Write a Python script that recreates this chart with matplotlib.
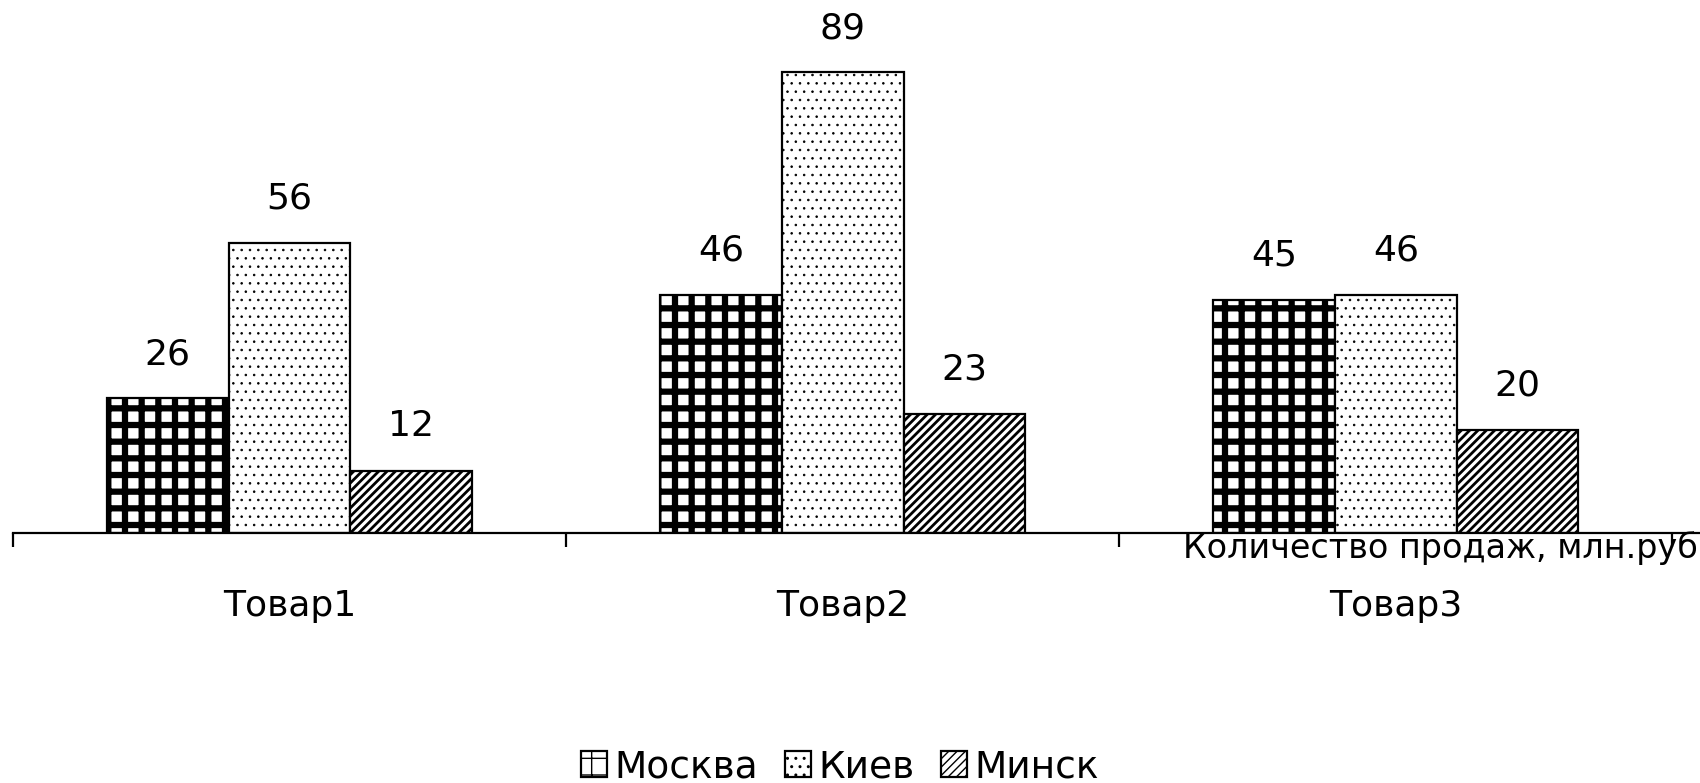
import matplotlib
matplotlib.use("Agg")
import matplotlib.pyplot as plt
import numpy as np

categories = ["Товар1", "Товар2", "Товар3"]
series_names = ["Москва", "Киев", "Минск"]
moscow = [26, 46, 45]
kiev = [56, 89, 46]
minsk = [12, 23, 20]
axis_title = "Количество продаж, млн.руб"

plt.rcParams['font.family'] = ['DejaVu Sans']

fig = plt.figure(figsize=(17, 7.83), dpi=100)
ax = fig.add_axes([13/1700, (783-533)/783, 1 - 13/1700, 533/783])

x = np.arange(len(categories)) + 0.5
w = 0.22
styles = [("+", 4.5), ("..", 0.6), ("////", 2.0)]
data = [moscow, kiev, minsk]
handles = []
for i, (vals, name, (hatch, hlw)) in enumerate(zip(data, series_names, styles)):
    with plt.rc_context({'hatch.linewidth': hlw, 'hatch.color': 'black'}):
        bars = ax.bar(x + (i - 1) * w, vals, width=w, facecolor='white',
                      edgecolor='black', linewidth=1.6, hatch=hatch, label=name)
    for b in bars:
        try:
            b.set_hatch_linewidth(hlw)
        except Exception:
            pass
    handles.append(bars)
    for xi, v in zip(x + (i - 1) * w, vals):
        ax.annotate(str(v), (xi, v), xytext=(0, 32), textcoords='offset points',
                    ha='center', va='center', fontsize=26)

ax.set_xlim(0, 3.05)
ax.set_ylim(0, 103)
for s in ['top', 'right', 'left']:
    ax.spines[s].set_visible(False)
ax.spines['bottom'].set_linewidth(1.6)
ax.set_yticks([])
ax.set_xticks([0, 1, 2, 3])
ax.set_xticklabels([])
ax.tick_params(axis='x', which='major', length=10, width=1.6, direction='out')
ax.set_xticks(x, minor=True)
ax.set_xticklabels(categories, minor=True, fontsize=26)
ax.tick_params(axis='x', which='minor', length=0, pad=40)

fig.text(1 - 2/1700, (783-548)/783, axis_title, ha='right', va='center', fontsize=24)

leg = fig.legend(handles=handles, labels=series_names, loc='center',
                 bbox_to_anchor=(840/1700, (783-767)/783), ncol=3, frameon=False,
                 fontsize=27, handlelength=0.7, handleheight=0.7, handletextpad=0.2,
                 columnspacing=0.7)

fig.savefig("out.png", dpi=100)
